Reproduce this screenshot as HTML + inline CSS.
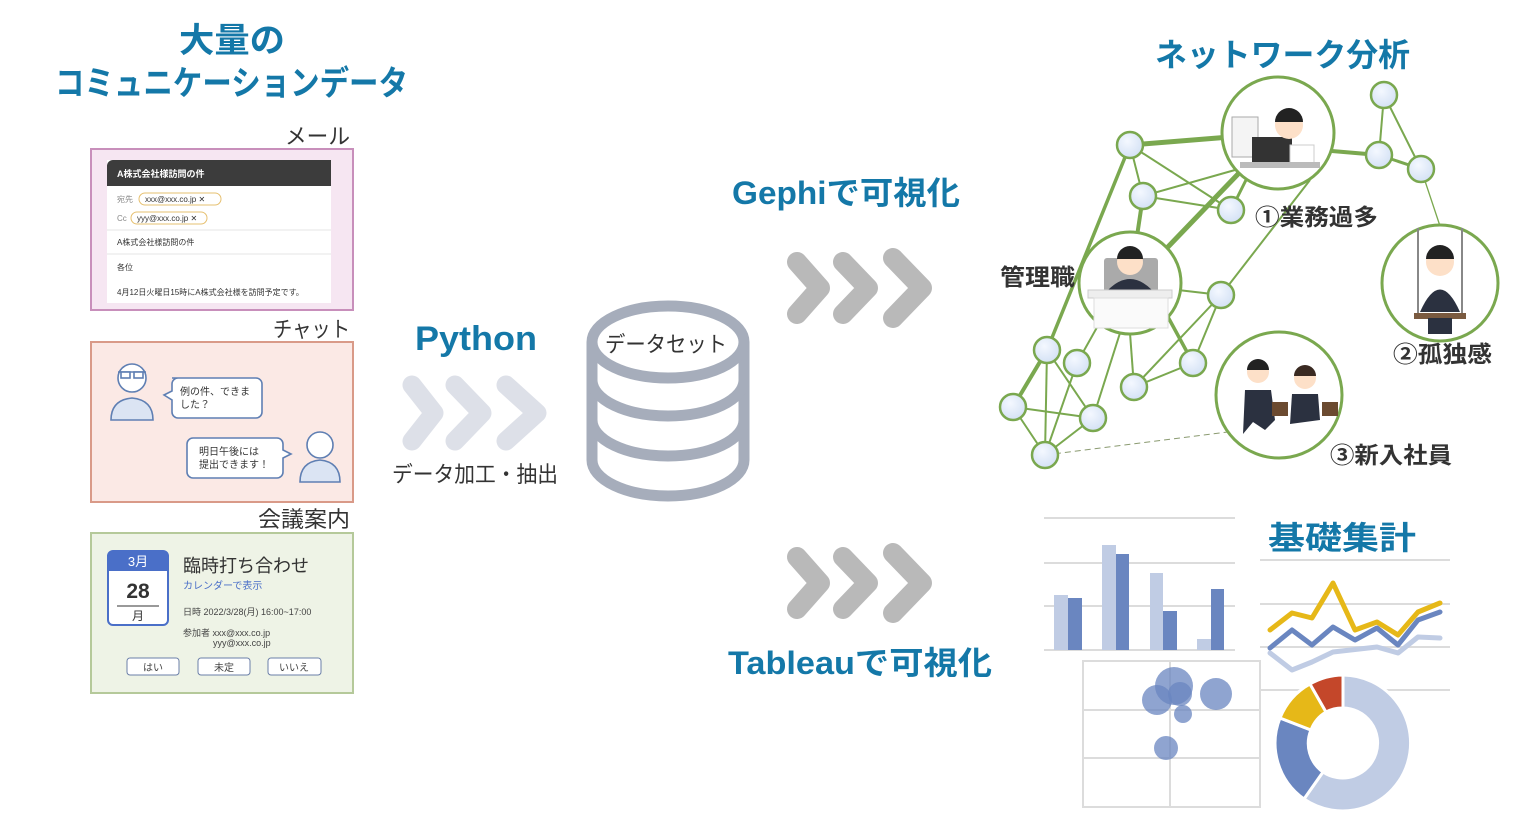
<!DOCTYPE html>
<html><head><meta charset="utf-8"><style>
html,body{margin:0;padding:0;background:#fff;}
svg{display:block;}
text{font-family:"Liberation Sans","Noto Sans CJK JP",sans-serif;}
</style></head><body>
<svg width="1531" height="830" viewBox="0 0 1531 830" xmlns="http://www.w3.org/2000/svg">
<defs>
<radialGradient id="ng" cx="40%" cy="35%" r="70%"><stop offset="0" stop-color="#f4f8ff"/><stop offset="1" stop-color="#d2e0f4"/></radialGradient>
</defs>
<!-- Left titles -->
<g fill="#1478a8" font-weight="bold" font-size="34">
<text x="179" y="52" textLength="106" lengthAdjust="spacingAndGlyphs">大量の</text>
<text x="55" y="95" textLength="353" lengthAdjust="spacingAndGlyphs">コミュニケーションデータ</text>
</g>
<g fill="#333" font-size="22">
<text x="285" y="144" textLength="65" lengthAdjust="spacingAndGlyphs">メール</text>
<text x="273" y="337" textLength="77" lengthAdjust="spacingAndGlyphs">チャット</text>
<text x="258" y="527" textLength="92" lengthAdjust="spacingAndGlyphs">会議案内</text>
</g>
<!-- Email -->
<rect x="91" y="149" width="262" height="161" fill="#f6e6f2" stroke="#c88fbb" stroke-width="2"/>
<rect x="107" y="160" width="224" height="143" fill="#fff"/>
<path d="M107 166 a6 6 0 0 1 6 -6 H331 V186 H107 Z" fill="#3c3c3c"/>
<text x="117" y="177" font-size="9" fill="#fff" font-weight="bold">A株式会社様訪問の件</text>
<g font-size="8" fill="#333">
<text x="117" y="202" fill="#888">宛先</text>
<rect x="139" y="193" width="82" height="12" rx="6" fill="#fff" stroke="#e6c070"/>
<text x="145" y="202">xxx@xxx.co.jp ✕</text>
<text x="117" y="221" fill="#888">Cc</text>
<rect x="131" y="212" width="76" height="12" rx="6" fill="#fff" stroke="#e6c070"/>
<text x="137" y="221">yyy@xxx.co.jp ✕</text>
<line x1="107" y1="230" x2="331" y2="230" stroke="#e6e6e6"/>
<text x="117" y="245">A株式会社様訪問の件</text>
<line x1="107" y1="254" x2="331" y2="254" stroke="#e6e6e6"/>
<text x="117" y="270">各位</text>
<text x="117" y="295">4月12日火曜日15時にA株式会社様を訪問予定です。</text>
</g>
<!-- Chat -->
<rect x="91" y="342" width="262" height="160" fill="#fbe9e5" stroke="#d99a88" stroke-width="2"/>
<g stroke="#5f7fb3" stroke-width="1.6" fill="#dbe4f3">
<path d="M111 420 q0 -20 21 -22 q21 2 21 22 z"/>
<circle cx="132" cy="378" r="14" fill="#fff"/>
<path d="M118 372 h28" />
<rect x="121" y="372" width="9" height="6" fill="#fff"/><rect x="134" y="372" width="9" height="6" fill="#fff"/>
<path d="M300 482 q0 -20 20 -22 q20 2 20 22 z"/>
<circle cx="320" cy="445" r="13" fill="#fff"/>
</g>
<g fill="#fff" stroke="#5f7fb3" stroke-width="1.6">
<path d="M172 378 h84 a6 6 0 0 1 6 6 v28 a6 6 0 0 1 -6 6 h-78 a6 6 0 0 1 -6 -6 v-12 l-8 -5 l8 -4 v-7 a6 6 0 0 1 6 -6z"/>
<path d="M193 438 h84 a6 6 0 0 1 6 6 v6 l8 4 l-8 4 v14 a6 6 0 0 1 -6 6 h-84 a6 6 0 0 1 -6 -6 v-28 a6 6 0 0 1 6 -6z"/>
</g>
<g font-size="10" fill="#333">
<text x="180" y="395">例の件、できま</text><text x="180" y="408">した？</text>
<text x="199" y="455">明日午後には</text><text x="199" y="468">提出できます！</text>
</g>
<!-- Meeting -->
<rect x="91" y="533" width="262" height="160" fill="#eef3e6" stroke="#b5c99a" stroke-width="2"/>
<rect x="108" y="551" width="60" height="74" rx="5" fill="#fff" stroke="#4a6fc8" stroke-width="2"/>
<path d="M108 571 V556 a5 5 0 0 1 5 -5 h50 a5 5 0 0 1 5 5 V571 Z" fill="#4a6fc8"/>
<text x="138" y="566" font-size="13" fill="#fff" text-anchor="middle">3月</text>
<text x="138" y="598" font-size="21" font-weight="bold" fill="#333" text-anchor="middle">28</text>
<line x1="117" y1="606" x2="159" y2="606" stroke="#333"/>
<text x="138" y="620" font-size="12" fill="#333" text-anchor="middle">月</text>
<text x="183" y="572" font-size="18" fill="#333">臨時打ち合わせ</text>
<text x="183" y="589" font-size="10" fill="#4a6fc8">カレンダーで表示</text>
<text x="183" y="615" font-size="9" fill="#444">日時  2022/3/28(月)  16:00~17:00</text>
<text x="183" y="636" font-size="9" fill="#444">参加者  xxx@xxx.co.jp</text>
<text x="213" y="646" font-size="9" fill="#444">yyy@xxx.co.jp</text>
<g fill="#fff" stroke="#6b7fa8"><rect x="127" y="658" width="52" height="17" rx="3"/><rect x="198" y="658" width="52" height="17" rx="3"/><rect x="268" y="658" width="53" height="17" rx="3"/></g>
<g font-size="10" fill="#444" text-anchor="middle"><text x="153" y="671">はい</text><text x="224" y="671">未定</text><text x="294" y="671">いいえ</text></g>

<!-- Python -->
<text x="415" y="350" font-size="34" font-weight="bold" fill="#1478a8" textLength="122" lengthAdjust="spacingAndGlyphs">Python</text>
<g fill="none" stroke="#dde0e8" stroke-width="19" stroke-linecap="round" stroke-linejoin="round">
<polyline points="412,385 434,413 412,441"/><polyline points="455,385 482,413 455,441"/><polyline points="506,385 537,413 506,441"/>
</g>
<text x="392" y="482" font-size="22" fill="#333" textLength="166" lengthAdjust="spacingAndGlyphs">データ加工・抽出</text>
<!-- Cylinder -->
<g fill="none" stroke="#a6adbb" stroke-width="11">
<path d="M592 342 V460 A76 36 0 0 0 744 460 V342"/>
<ellipse cx="668" cy="342" rx="76" ry="36"/>
<path d="M592 380 A76 36 0 0 0 744 380"/>
<path d="M592 420 A76 36 0 0 0 744 420"/>
</g>
<text x="605" y="352" font-size="22" fill="#333" textLength="122" lengthAdjust="spacingAndGlyphs">データセット</text>

<!-- Gray chevrons -->
<g fill="none" stroke="#b9b9b9" stroke-width="20" stroke-linecap="round" stroke-linejoin="round">
<polyline points="797,262 820,288 797,314"/><polyline points="843,262 868,288 843,314"/><polyline points="893,258 922,288 893,318"/>
<polyline points="797,557 820,583 797,609"/><polyline points="843,557 868,583 843,609"/><polyline points="893,553 922,583 893,613"/>
</g>
<g fill="#1478a8" font-weight="bold" font-size="32">
<text x="732" y="204" textLength="228" lengthAdjust="spacingAndGlyphs">Gephiで可視化</text>
<text x="728" y="674" textLength="264" lengthAdjust="spacingAndGlyphs">Tableauで可視化</text>
<text x="1155" y="66" textLength="255" lengthAdjust="spacingAndGlyphs">ネットワーク分析</text>
<text x="1268" y="549" textLength="148" lengthAdjust="spacingAndGlyphs">基礎集計</text>
</g>

<!-- Network edges -->
<g stroke="#7aa84f" stroke-width="2" fill="none">
<line x1="1130" y1="145" x2="1230" y2="137" stroke-width="5"/>
<line x1="1130" y1="145" x2="1143" y2="196"/>
<line x1="1130" y1="145" x2="1231" y2="210"/>
<line x1="1130" y1="145" x2="1047" y2="350" stroke-width="3.5"/>
<line x1="1143" y1="196" x2="1130" y2="283" stroke-width="4"/>
<line x1="1143" y1="196" x2="1235" y2="170"/>
<line x1="1143" y1="196" x2="1231" y2="210"/>
<line x1="1231" y1="210" x2="1250" y2="172" stroke-width="3"/>
<line x1="1165" y1="250" x2="1240" y2="172" stroke-width="5"/>
<line x1="1320" y1="150" x2="1379" y2="155" stroke-width="4"/>
<line x1="1384" y1="95" x2="1379" y2="155"/>
<line x1="1384" y1="95" x2="1421" y2="169"/>
<line x1="1379" y1="155" x2="1421" y2="169" stroke-width="3"/>
<line x1="1421" y1="169" x2="1440" y2="226" stroke-width="1.3"/>
<line x1="1310" y1="180" x2="1221" y2="295"/>
<line x1="1178" y1="290" x2="1221" y2="295"/>
<line x1="1221" y1="295" x2="1134" y2="387"/>
<line x1="1221" y1="295" x2="1193" y2="363"/>
<line x1="1168" y1="317" x2="1193" y2="363" stroke-width="3.5"/>
<line x1="1130" y1="333" x2="1134" y2="387"/>
<line x1="1100" y1="322" x2="1077" y2="363"/>
<line x1="1120" y1="333" x2="1093" y2="418"/>
<line x1="1134" y1="387" x2="1193" y2="363"/>
<line x1="1047" y1="350" x2="1013" y2="407" stroke-width="4"/>
<line x1="1047" y1="350" x2="1093" y2="418"/>
<line x1="1047" y1="350" x2="1045" y2="455"/>
<line x1="1077" y1="363" x2="1045" y2="455"/>
<line x1="1013" y1="407" x2="1093" y2="418"/>
<line x1="1013" y1="407" x2="1045" y2="455"/>
<line x1="1093" y1="418" x2="1045" y2="455"/>
<line x1="1045" y1="455" x2="1228" y2="432" stroke-width="1" stroke="#8a9a70" stroke-dasharray="6 4"/>
</g>
<!-- big circles -->
<g fill="#fff" stroke="#7aa84f" stroke-width="3">
<circle cx="1278" cy="133" r="56"/>
<circle cx="1130" cy="283" r="51"/>
<circle cx="1440" cy="283" r="58"/>
<circle cx="1279" cy="395" r="63"/>
</g>
<!-- simple illustrations -->
<g>
<rect x="1232" y="117" width="26" height="40" fill="#f4f4f4" stroke="#aaa"/>
<rect x="1252" y="137" width="40" height="26" fill="#333"/>
<circle cx="1289" cy="125" r="14" fill="#fde0c8"/><path d="M1275 122 a14 14 0 0 1 28 0 z" fill="#222"/>
<path d="M1290 145 h24 v20 h-24z" fill="#fff" stroke="#ccc"/>
<rect x="1240" y="162" width="80" height="6" fill="#bbb"/>
<rect x="1104" y="258" width="54" height="36" fill="#aaa" rx="3"/>
<path d="M1108 290 q22 -22 44 0 z" fill="#2b3140"/>
<circle cx="1130" cy="262" r="13" fill="#fde0c8"/><path d="M1117 259 a13 13 0 0 1 26 0 z" fill="#222"/>
<rect x="1088" y="290" width="84" height="8" fill="#eee" stroke="#ccc"/>
<rect x="1094" y="298" width="74" height="30" fill="#fafafa" stroke="#ddd"/>
<line x1="1418" y1="228" x2="1418" y2="318" stroke="#888" stroke-width="2"/><line x1="1462" y1="228" x2="1462" y2="318" stroke="#888" stroke-width="2"/>
<circle cx="1440" cy="262" r="14" fill="#fde0c8"/><path d="M1426 259 a14 14 0 0 1 28 0 z" fill="#222"/>
<path d="M1420 312 q20 -45 40 0 z" fill="#2b3140"/>
<rect x="1414" y="313" width="52" height="6" fill="#7a5a40"/>
<rect x="1428" y="318" width="24" height="16" fill="#2b3140"/>
<circle cx="1258" cy="372" r="11" fill="#fde0c8"/><path d="M1247 370 a11 11 0 0 1 22 0 z" fill="#222"/>
<path d="M1245 390 l26 0 l4 30 l-10 10 l-12 -8 l-10 12 z" fill="#2b3140"/>
<circle cx="1305" cy="378" r="11" fill="#fde0c8"/><path d="M1294 376 a11 11 0 0 1 22 0 z" fill="#3a2a22"/>
<path d="M1292 394 l26 0 l2 26 l-30 4 z" fill="#2b3140"/>
<rect x="1272" y="402" width="16" height="14" fill="#6b4a30"/><rect x="1322" y="402" width="16" height="14" fill="#6b4a30"/>
</g>
<!-- small nodes -->
<g fill="url(#ng)" stroke="#7aa84f" stroke-width="2.5">
<circle cx="1130" cy="145" r="13"/><circle cx="1384" cy="95" r="13"/><circle cx="1379" cy="155" r="13"/><circle cx="1421" cy="169" r="13"/>
<circle cx="1143" cy="196" r="13"/><circle cx="1231" cy="210" r="13"/><circle cx="1221" cy="295" r="13"/>
<circle cx="1047" cy="350" r="13"/><circle cx="1077" cy="363" r="13"/><circle cx="1193" cy="363" r="13"/><circle cx="1134" cy="387" r="13"/>
<circle cx="1013" cy="407" r="13"/><circle cx="1093" cy="418" r="13"/><circle cx="1045" cy="455" r="13"/>
</g>
<g fill="#333" font-weight="bold" font-size="23">
<text x="1000" y="285" textLength="75" lengthAdjust="spacingAndGlyphs">管理職</text>
<text x="1255" y="225" textLength="123" lengthAdjust="spacingAndGlyphs">①業務過多</text>
<text x="1393" y="362" textLength="99" lengthAdjust="spacingAndGlyphs">②孤独感</text>
<text x="1330" y="463" textLength="122" lengthAdjust="spacingAndGlyphs">③新入社員</text>
</g>

<!-- Bar chart -->
<g stroke="#dcdcdc" stroke-width="2">
<line x1="1044" y1="518" x2="1235" y2="518"/><line x1="1044" y1="563" x2="1235" y2="563"/><line x1="1044" y1="606" x2="1235" y2="606"/><line x1="1044" y1="650" x2="1235" y2="650"/>
<line x1="1260" y1="560" x2="1450" y2="560"/><line x1="1260" y1="604" x2="1450" y2="604"/><line x1="1260" y1="647" x2="1450" y2="647"/><line x1="1260" y1="690" x2="1450" y2="690"/>
</g>
<g fill="#c0cce4"><rect x="1054" y="595" width="14" height="55"/><rect x="1102" y="545" width="14" height="105"/><rect x="1150" y="573" width="13" height="77"/><rect x="1197" y="639" width="14" height="11"/></g>
<g fill="#6a86c0"><rect x="1068" y="598" width="14" height="52"/><rect x="1116" y="554" width="13" height="96"/><rect x="1163" y="611" width="14" height="39"/><rect x="1211" y="589" width="13" height="61"/></g>
<!-- Line chart -->
<g fill="none" stroke-width="5" stroke-linejoin="round" stroke-linecap="round">
<polyline stroke="#c0cce4" points="1270,653 1292,670 1312,662 1333,652 1377,647 1398,653 1418,637 1440,638"/>
<polyline stroke="#6a86c0" points="1270,648 1292,630 1312,645 1333,627 1355,640 1377,628 1398,645 1418,620 1440,612"/>
<polyline stroke="#e6b818" points="1270,630 1292,613 1312,618 1333,583 1355,630 1377,622 1398,635 1418,612 1440,603"/>
</g>
<!-- Scatter -->
<rect x="1083" y="661" width="177" height="146" fill="#fff" stroke="#dcdcdc" stroke-width="2"/>
<g stroke="#dcdcdc" stroke-width="2"><line x1="1170" y1="661" x2="1170" y2="807"/><line x1="1083" y1="710" x2="1260" y2="710"/><line x1="1083" y1="758" x2="1260" y2="758"/></g>
<g fill="#6a86c0" fill-opacity="0.75">
<circle cx="1174" cy="686" r="19"/><circle cx="1157" cy="700" r="15"/><circle cx="1180" cy="694" r="12"/><circle cx="1216" cy="694" r="16"/><circle cx="1183" cy="714" r="9"/><circle cx="1166" cy="748" r="12"/>
</g>
<!-- Donut -->
<g stroke="#fff" stroke-width="3">
<path d="M1343 675 A68 68 0 1 1 1304 799 L1323 772 A35 35 0 1 0 1343 708 Z" fill="#c0cce4"/>
<path d="M1304 799 A68 68 0 0 1 1280 718 L1311 730 A35 35 0 0 0 1323 772 Z" fill="#6a86c0"/>
<path d="M1280 718 A68 68 0 0 1 1310 684 L1326 712 A35 35 0 0 0 1311 730 Z" fill="#e6b818"/>
<path d="M1310 684 A68 68 0 0 1 1343 675 L1343 708 A35 35 0 0 0 1326 712 Z" fill="#c4472a"/>
</g>
</svg>
</body></html>
